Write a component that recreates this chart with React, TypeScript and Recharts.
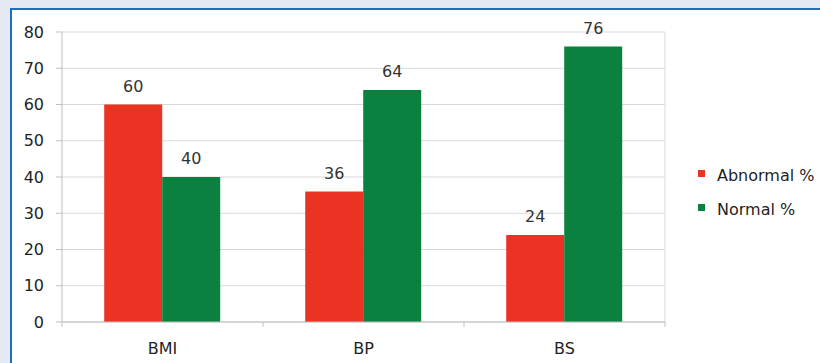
import { BarChart, Bar, XAxis, YAxis, CartesianGrid, Legend, LabelList } from "recharts";

const categories = ["BMI", "BP", "BS"];
const abnormalPct = [60, 36, 24];
const normalPct = [40, 64, 76];
const yTicks = [0, 10, 20, 30, 40, 50, 60, 70, 80];

const series = [
  { key: "abnormal", name: "Abnormal %", color: "#ea3323" },
  { key: "normal", name: "Normal %", color: "#0b8140" },
];

const data = categories.map((c, i) => ({
  name: c,
  abnormal: abnormalPct[i],
  normal: normalPct[i],
}));

const FONT = "'DejaVu Sans', sans-serif";
const TEXT = "#1f1f1f";

const CategoryTick = (props: any) => {
  const { x, y, payload, width, visibleTicksCount } = props;
  const band = payload?.offset ? payload.offset * 2 : width / visibleTicksCount;
  const left = x - band / 2;
  const last = payload.index === visibleTicksCount - 1 || props.index === visibleTicksCount - 1;
  return (
    <g>
      <line x1={left} x2={left} y1={y} y2={y + 5} stroke="#bfbfbf" />
      {last && <line x1={left + band} x2={left + band} y1={y} y2={y + 5} stroke="#bfbfbf" />}
      <text x={x} y={y + 32} textAnchor="middle" fontSize={16} fontFamily={FONT} fill={TEXT}>
        {payload.value}
      </text>
    </g>
  );
};

const SideLegend = () => (
  <div style={{ fontFamily: FONT, fontSize: 16, color: TEXT }}>
    {series.map((s) => (
      <div key={s.key} style={{ display: "flex", alignItems: "center", height: 34 }}>
        <span style={{ width: 7, height: 7, background: s.color, marginRight: 12, marginTop: -3 }} />
        <span style={{ whiteSpace: "nowrap" }}>{s.name}</span>
      </div>
    ))}
  </div>
);

export default function App() {
  return (
    <div
      style={{
        position: "absolute",
        left: 0,
        top: 0,
        width: 820,
        height: 363,
        background: "#e4e9f3",
        overflow: "hidden",
      }}
    >
      <div
        style={{
          position: "absolute",
          left: 10,
          top: 8,
          width: 830,
          height: 380,
          border: "2px solid #1c6fc0",
          background: "#ffffff",
          boxSizing: "border-box",
        }}
      />
      <div style={{ position: "absolute", left: 0, top: 0 }}>
        <BarChart
          width={820}
          height={363}
          data={data}
          margin={{ top: 32, right: 155, left: 0, bottom: 0 }}
          barCategoryGap="21%"
          barGap={0}
        >
          <CartesianGrid
            stroke="#d9d9d9"
            vertical={true}
            verticalCoordinatesGenerator={(p: any) => [p.offset.left + p.offset.width]}
          />
          <XAxis
            dataKey="name"
            height={41}
            tickSize={0}
            tickMargin={0}
            axisLine={{ stroke: "#bfbfbf" }}
            tickLine={false}
            tick={<CategoryTick />}
            interval={0}
          />
          <YAxis
            width={62}
            domain={[0, 80]}
            ticks={yTicks}
            tickSize={6}
            tickMargin={12}
            axisLine={{ stroke: "#bfbfbf" }}
            tickLine={{ stroke: "#bfbfbf" }}
            tick={{ fontSize: 16, fontFamily: FONT, fill: TEXT }}
            interval={0}
          />
          <Legend
            layout="horizontal"
            verticalAlign="middle"
            align="center"
            wrapperStyle={{ position: "absolute", left: 698, top: 158, width: 130 }}
            content={<SideLegend />}
          />
          {series.map((s) => (
            <Bar key={s.key} dataKey={s.key} name={s.name} fill={s.color} isAnimationActive={false}>
              <LabelList
                dataKey={s.key}
                position="top"
                offset={13}
                style={{ fontSize: 16, fontFamily: FONT, fill: "#333333" }}
              />
            </Bar>
          ))}
        </BarChart>
      </div>
    </div>
  );
}
